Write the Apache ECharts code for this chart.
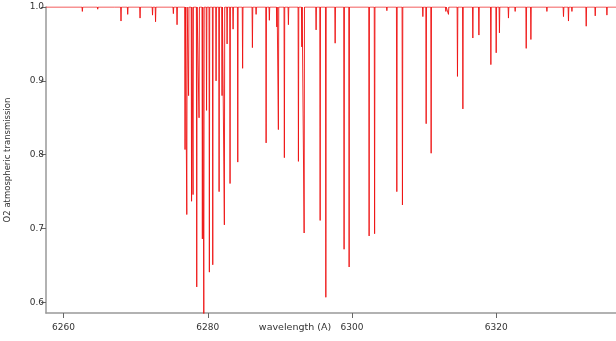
<!DOCTYPE html>
<html>
<head>
<meta charset="utf-8">
<script src="https://cdn.jsdelivr.net/npm/echarts@6/dist/echarts.min.js"></script>
<style>
html,body{margin:0;padding:0;background:#fff;}
#chart{width:616px;height:341px;}
</style>
</head>
<body>
<div id="chart"></div>
<script>
// Absorption line centres (wavelength, Å) and transmission at line minimum
var lineCenters = [
  6262.61, 6264.74, 6267.14, 6267.97, 6268.90, 6270.61, 6272.34, 6272.76, 6275.23, 6275.74,
  6276.85, 6277.09, 6277.34, 6277.75, 6277.96, 6278.47, 6278.79, 6279.25, 6279.45, 6279.83,
  6280.22, 6280.69, 6281.15, 6281.57, 6281.98, 6282.30, 6282.68, 6283.09, 6283.51, 6284.16,
  6284.83, 6286.19, 6286.70, 6288.09, 6288.54, 6289.57, 6289.79, 6290.62, 6291.18, 6292.57,
  6293.04, 6293.36, 6295.02, 6295.58, 6296.37, 6297.66, 6298.90, 6299.60, 6302.37, 6303.13,
  6304.83, 6306.21, 6306.99, 6309.82, 6310.28, 6310.97, 6313.01, 6313.37, 6314.62, 6315.37,
  6316.75, 6317.59, 6319.25, 6319.99, 6320.44, 6321.69, 6322.62, 6324.15, 6324.80, 6327.02,
  6329.32, 6330.01, 6330.49, 6332.47, 6333.72, 6335.34
];
var lineMinima = [
  0.994, 0.997, 0.998, 0.981, 0.990, 0.985, 0.989, 0.980, 0.991, 0.976,
  0.807, 0.719, 0.880, 0.737, 0.746, 0.621, 0.850, 0.686, 0.583, 0.860,
  0.641, 0.651, 0.900, 0.750, 0.880, 0.705, 0.950, 0.761, 0.970, 0.790,
  0.917, 0.945, 0.990, 0.816, 0.982, 0.973, 0.834, 0.796, 0.976, 0.791,
  0.946, 0.694, 0.969, 0.711, 0.607, 0.951, 0.672, 0.648, 0.690, 0.693,
  0.995, 0.750, 0.732, 0.987, 0.842, 0.802, 0.994, 0.990, 0.906, 0.862,
  0.958, 0.962, 0.922, 0.938, 0.965, 0.985, 0.994, 0.944, 0.956, 0.994,
  0.987, 0.981, 0.994, 0.974, 0.988, 0.989
];
var continuum = 1.0;
var xTicks = [6260, 6280, 6300, 6320];
var yTicks = [0.6, 0.7, 0.8, 0.9, 1.0];
var xRange = [6257.57, 6336.6];
var yRange = [0.5857, 1.0];

var halfWidth = 0.05;
var pts = [[xRange[0], continuum]];
for (var i = 0; i < lineCenters.length; i++) {
  pts.push([lineCenters[i] - halfWidth, continuum]);
  pts.push([lineCenters[i], lineMinima[i]]);
  pts.push([lineCenters[i] + halfWidth, continuum]);
}
pts.push([xRange[1], continuum]);
pts.sort(function (a, b) { return a[0] - b[0]; });

var font = 'DejaVu Sans, Verdana, sans-serif';
var axisGray = '#999999';
var chart = echarts.init(document.getElementById('chart'), null, {renderer: 'canvas'});
chart.setOption({
  animation: false,
  backgroundColor: '#ffffff',
  grid: {left: 46, right: 0, top: 7, bottom: 28, containLabel: false, outerBoundsMode: 'none'},
  xAxis: {
    type: 'value', min: xRange[0], max: xRange[1],
    name: 'wavelength (A)', nameLocation: 'middle', nameGap: 10, nameMoveOverlap: false,
    nameTextStyle: {fontFamily: font, fontSize: 9.5, color: '#333', verticalAlign: 'top', padding: [0, 72, 0, 0]},
    axisLine: {show: true, lineStyle: {color: axisGray, width: 1.5}},
    axisTick: {show: true, length: 5, lineStyle: {color: '#666', width: 1}, customValues: xTicks},
    axisLabel: {show: true, fontFamily: font, fontSize: 9, color: '#333', margin: 10, customValues: xTicks,
      formatter: function (v) { return String(Math.round(v)); }},
    splitLine: {show: false}
  },
  yAxis: {
    type: 'value', min: yRange[0], max: yRange[1],
    name: 'O2 atmospheric transmission', nameLocation: 'middle', nameGap: 34, nameRotate: 90, nameMoveOverlap: false,
    nameTextStyle: {fontFamily: font, fontSize: 8.5, color: '#333'},
    axisLine: {show: true, lineStyle: {color: axisGray, width: 1.5}},
    axisTick: {show: true, length: 5, lineStyle: {color: '#666', width: 1}, customValues: yTicks},
    axisLabel: {show: true, fontFamily: font, fontSize: 9, color: '#333', margin: 2, customValues: yTicks,
      formatter: function (v) { return v.toFixed(1); }},
    splitLine: {show: false}
  },
  series: [{
    type: 'line', data: pts, showSymbol: false, symbol: 'none',
    lineStyle: {color: '#ee1111', width: 0.9}, clip: true
  }]
});
</script>
</body>
</html>
